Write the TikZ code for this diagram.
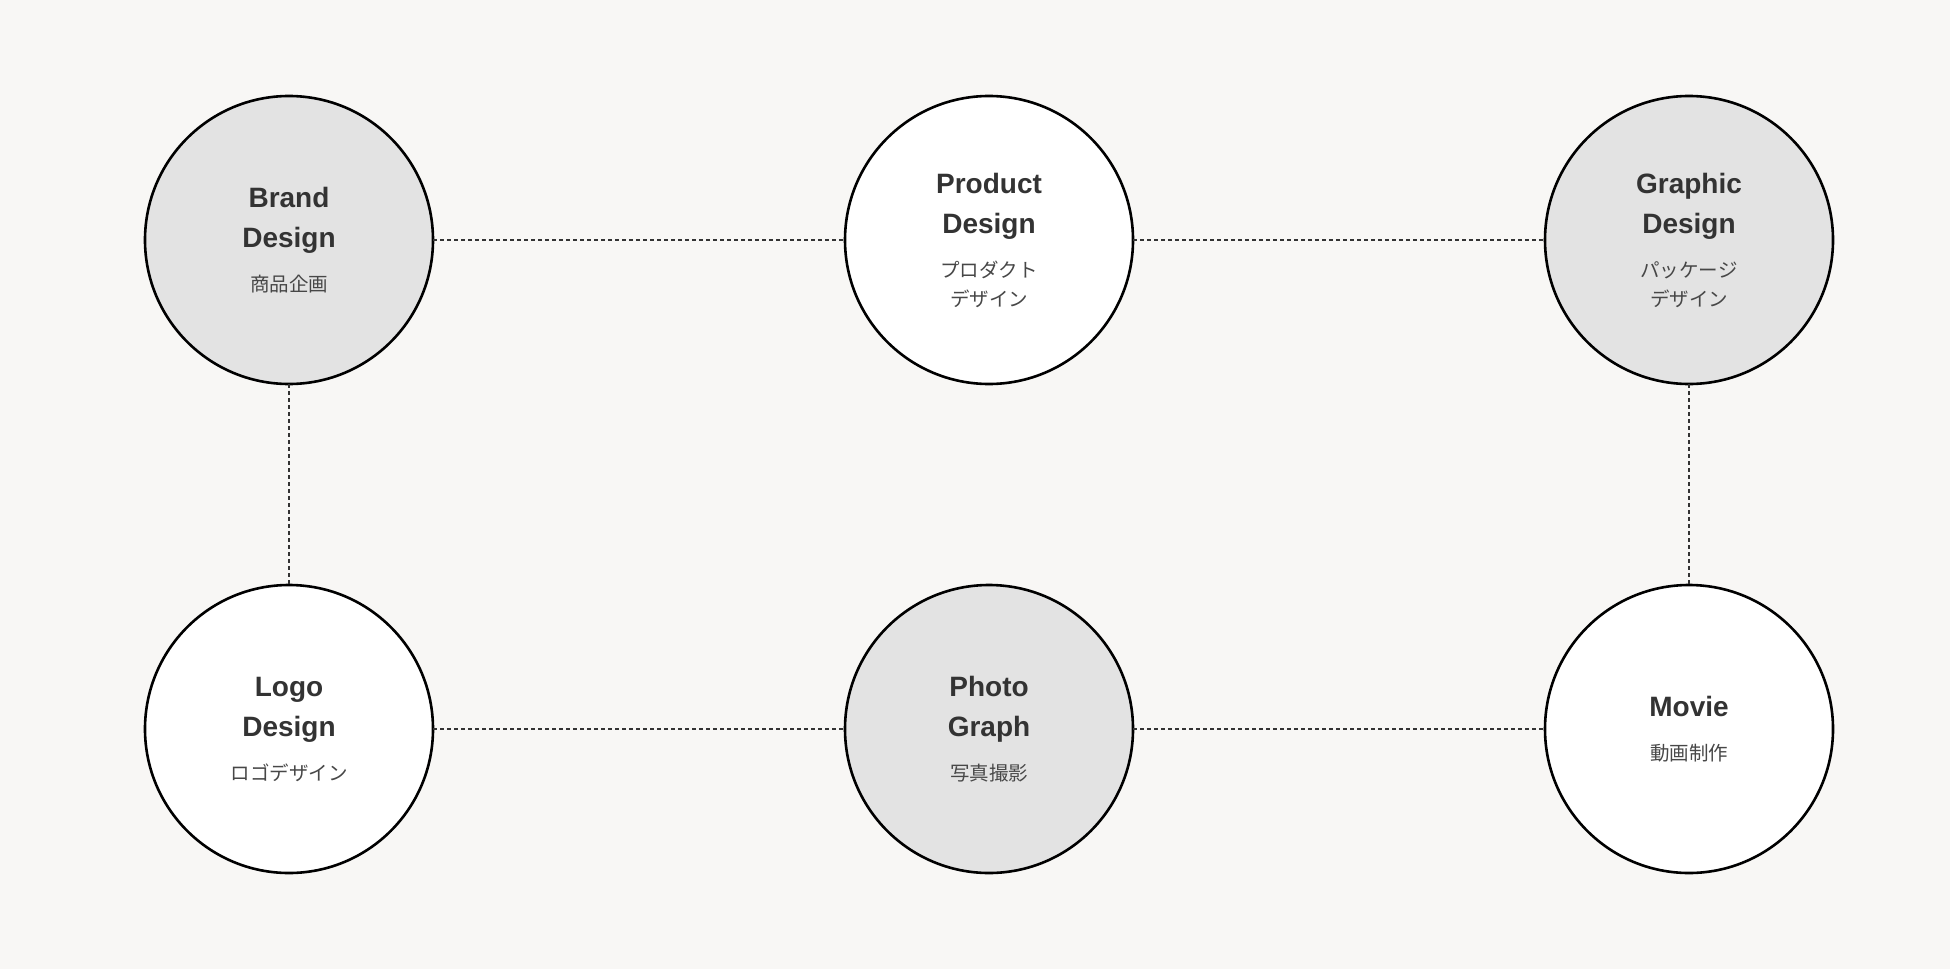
\documentclass[tikz,border=0pt]{standalone}
\usepackage{fontspec}
\setmainfont{Liberation Sans}
\newfontfamily\jpfont{Noto Sans CJK JP}
\usetikzlibrary{positioning}

\definecolor{paper}{HTML}{F8F7F5}
\definecolor{discgray}{HTML}{E3E3E3}
\definecolor{ink}{HTML}{333333}
\definecolor{subink}{HTML}{474747}
\newcommand{\jp}[1]{{\normalfont\jpfont\fontsize{19.5}{29}\selectfont\color{subink}#1}}

\begin{document}
\begin{tikzpicture}[
    x=1pt, y=-1pt,
    node distance=201pt and 412pt,
    disc/.style={draw=black, line width=2.6pt, circle, minimum size=288pt, inner sep=0pt, outer sep=0pt, align=center, text=ink, font=\fontsize{28}{40}\selectfont\bfseries, fill=white},
    shaded/.style={disc, fill=discgray},
    link/.style={draw=ink, line width=1.2pt, dash pattern=on 4pt off 3pt}
  ]
    \fill[paper] (0,0) rectangle (1950,969);

    \node[shaded] (brand) at (289,240) {Brand\\Design\\[4pt]\jp{商品企画}};
    \node[disc, right=of brand] (product) {Product\\Design\\[4pt]\jp{プロダクト}\\[-11pt]\jp{デザイン}};
    \node[shaded, right=of product] (graphic) {Graphic\\Design\\[4pt]\jp{パッケージ}\\[-11pt]\jp{デザイン}};
    \node[disc, below=of brand] (logo) {Logo\\Design\\[4pt]\jp{ロゴデザイン}};
    \node[shaded, right=of logo] (photo) {Photo\\Graph\\[4pt]\jp{写真撮影}};
    \node[disc, right=of photo] (movie) {Movie\\[4pt]\jp{動画制作}};

    \draw[link] (brand) -- (product);
    \draw[link] (product) -- (graphic);
    \draw[link] (brand) -- (logo);
    \draw[link] (graphic) -- (movie);
    \draw[link] (logo) -- (photo);
    \draw[link] (photo) -- (movie);
  \end{tikzpicture}
\end{document}
